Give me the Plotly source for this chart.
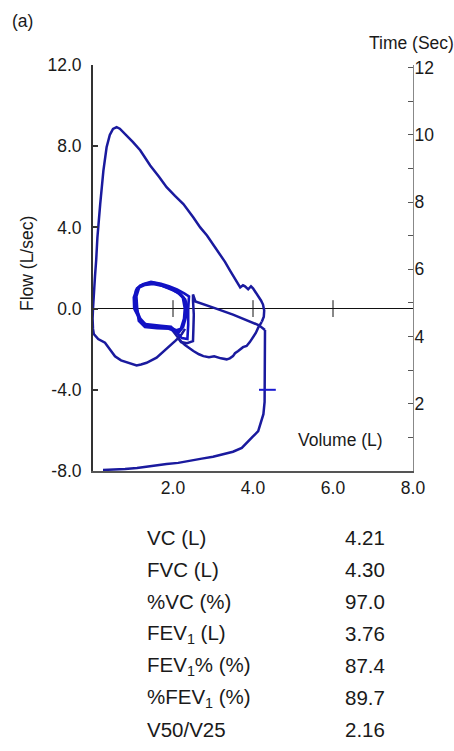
import plotly.graph_objects as go

# ---------------- data ----------------
# forced expiration limb
exp_vol = [0, 0.02, 0.05, 0.08, 0.11, 0.18, 0.26, 0.34, 0.42, 0.5, 0.59, 0.67, 0.84, 1.0, 1.18,
           1.43, 1.65, 1.84, 2.05, 2.26, 2.51, 2.68, 2.85, 3.0, 3.18, 3.3, 3.43, 3.59, 3.68, 3.75,
           3.8, 3.88, 3.95, 4.0, 4.07, 4.13, 4.2, 4.25, 4.28, 4.27, 4.22]
exp_flow = [0, 0.8, 1.6, 2.4, 3.5, 5.15, 6.8, 7.95, 8.55, 8.85, 8.94, 8.86, 8.53, 8.2, 7.8,
            7.05, 6.5, 5.98, 5.55, 5.15, 4.49, 4.0, 3.6, 3.18, 2.69, 2.3, 1.86, 1.37, 1.04, 1.15,
            1.1, 0.95, 1.1, 1.0, 0.8, 0.63, 0.4, 0.2, -0.1, -0.4, -0.65]

# return path (lower right)
ret_vol = [4.22, 4.17, 4.13, 4.07, 4.0, 3.92, 3.84, 3.75, 3.63, 3.55, 3.5, 3.42, 3.34, 3.2, 3.03,
           2.9, 2.76, 2.65, 2.51, 2.4, 2.3, 2.2, 2.13, 2.05, 1.98]
ret_flow = [-0.65, -0.8, -0.94, -1.2, -1.43, -1.65, -1.84, -1.9, -2.09, -2.2, -2.34, -2.45, -2.5,
            -2.45, -2.35, -2.4, -2.34, -2.25, -2.09, -1.95, -1.8, -1.62, -1.45, -1.25, -1.05]

# left lower path
left_vol = [0, -0.01, 0.0, 0.02, 0.13, 0.3, 0.42, 0.55, 0.7, 0.88, 1.09, 1.2, 1.34, 1.59, 1.72,
            1.84, 1.95, 2.05, 2.13, 2.22, 2.3]
left_flow = [0, -0.5, -1.0, -1.25, -1.5, -1.68, -2.0, -2.35, -2.55, -2.67, -2.8, -2.75, -2.67,
             -2.42, -2.2, -2.0, -1.8, -1.6, -1.45, -1.25, -1.0]

# vertical + diagonal path
diag_vol = [2.13, 2.2, 2.35, 2.5, 2.51, 2.52, 2.5, 2.5, 2.56, 2.8, 3.08, 3.5, 4.0, 4.15, 4.3]
diag_flow = [-1.45, -1.65, -1.7, -1.6, -1.0, -0.3, 0.4, 0.7, 0.35, 0.2, 0.0, -0.3, -0.69, -0.82, -1.05]

# forced inspiration limb
insp_vol = [4.3, 4.3, 4.3, 4.3, 4.29, 4.26, 4.2, 4.13, 4.0, 3.85, 3.72, 3.5, 3.3, 3.0, 2.72, 2.4,
            2.13, 1.84, 1.47, 1.1, 0.8, 0.5, 0.25]
insp_flow = [-1.05, -2.0, -3.0, -4.0, -4.6, -5.2, -5.6, -6.04, -6.3, -6.6, -6.86, -7.05, -7.16,
             -7.3, -7.39, -7.5, -7.6, -7.66, -7.77, -7.85, -7.9, -7.93, -7.95]

# tidal loops
tid1_vol = [1.07, 1.05, 1.08, 1.18, 1.32, 1.47, 1.65, 1.84, 2.02, 2.18, 2.3, 2.36, 2.32, 2.25, 2.15,
            2.0, 1.84, 1.6, 1.34, 1.18, 1.07]
tid1_flow = [0.0, 0.5, 0.9, 1.12, 1.22, 1.28, 1.2, 1.06, 0.9, 0.72, 0.45, 0.05, -0.4, -0.9, -1.15,
             -1.0, -0.92, -0.92, -0.84, -0.5, 0.0]
tid2_vol = [1.03, 1.02, 1.1, 1.25, 1.45, 1.7, 1.9, 2.1, 2.28, 2.4, 2.38, 2.38, 2.36, 2.22, 2.1,
            1.95, 1.7, 1.4, 1.25, 1.12, 1.03]
tid2_flow = [0.0, 0.55, 1.0, 1.2, 1.32, 1.22, 1.1, 0.95, 0.75, 0.6, 0.0, -0.8, -1.5, -1.45, -1.2,
             -0.9, -0.85, -0.8, -0.75, -0.35, 0.0]
tid3_vol = [1.1, 1.08, 1.15, 1.3, 1.5, 1.75, 1.95, 2.12, 2.25, 2.3, 2.28, 2.2, 2.05, 1.9, 1.6,
            1.3, 1.15, 1.1]
tid3_flow = [0.0, 0.6, 1.05, 1.18, 1.22, 1.12, 0.98, 0.8, 0.55, 0.0, -0.5, -1.0, -1.1, -0.98,
             -0.95, -0.9, -0.6, 0.0]

# reference mark on the inspiration limb
mark_vol = [4.36]
mark_flow = [-4.0]

# ticks across the zero-flow line
zero_tick_vol = [2, 4, 6]

flow_ticks = [-8, -4, 0, 4, 8, 12]
flow_labels = ["-8.0", "-4.0", "0.0", "4.0", "8.0", "12.0"]
vol_ticks = [2, 4, 6, 8]
vol_labels = ["2.0", "4.0", "6.0", "8.0"]
time_ticks = [2, 4, 6, 8, 10, 12]
time_labels = ["2", "4", "6", "8", "10", "12"]
time_minor = [1, 3, 5, 7, 9, 11]

table_labels = ["VC (L)", "FVC (L)", "%VC (%)", "FEV<sub>1</sub> (L)", "FEV<sub>1</sub>% (%)",
                "%FEV<sub>1</sub> (%)", "V50/V25"]
table_values = ["4.21", "4.30", "97.0", "3.76", "87.4", "89.7", "2.16"]

# ---------------- figure ----------------
FONT = "Arial, Liberation Sans, sans-serif"
TXT = "#1a1a1a"
MAIN = "#1a1a9e"
LOOP = "#1212c4"

fig = go.Figure()

def add_line(x, y, color=MAIN, width=2.5):
    fig.add_trace(go.Scatter(x=x, y=y, mode="lines", line=dict(color=color, width=width),
                             hoverinfo="skip", showlegend=False, cliponaxis=False))

add_line(left_vol, left_flow)
add_line(ret_vol, ret_flow)
add_line(diag_vol, diag_flow)
add_line(insp_vol, insp_flow)
add_line(tid1_vol, tid1_flow, LOOP, 3.0)
add_line(tid2_vol, tid2_flow, LOOP, 2.6)
add_line(tid3_vol, tid3_flow, LOOP, 3.0)
add_line(exp_vol, exp_flow)

fig.add_trace(go.Scatter(x=mark_vol, y=mark_flow, mode="markers",
                         marker=dict(symbol="line-ew", size=12, line=dict(color="#1a1ad0", width=2)),
                         hoverinfo="skip", showlegend=False))
fig.add_trace(go.Scatter(x=zero_tick_vol, y=[0] * len(zero_tick_vol), mode="markers",
                         marker=dict(symbol="line-ns", size=12, line=dict(color="#111", width=1)),
                         hoverinfo="skip", showlegend=False))
# carrier for the time axis
fig.add_trace(go.Scatter(x=[0], y=[0], yaxis="y2", mode="markers", marker=dict(opacity=0),
                         hoverinfo="skip", showlegend=False))

fig.update_layout(
    template="none",
    width=454, height=751,
    margin=dict(l=93, r=41, t=65, b=280, autoexpand=False),
    paper_bgcolor="white", plot_bgcolor="white",
    font=dict(family=FONT, size=17.5, color=TXT),
    showlegend=False,
    xaxis=dict(range=[0, 8], automargin=False, showgrid=False, zeroline=False, showline=True,
               linecolor="#555", linewidth=1.5, tickmode="array", tickvals=vol_ticks,
               ticktext=vol_labels, ticks="", tickfont=dict(size=17.5, color=TXT),
               fixedrange=True),
    yaxis=dict(range=[-8, 12], automargin=False, showgrid=False, zeroline=True,
               zerolinecolor="#111", zerolinewidth=1, showline=True, linecolor="#333",
               linewidth=2, tickmode="array", tickvals=flow_ticks, ticktext=flow_labels,
               ticks="inside", ticklen=5, tickcolor="#333", tickwidth=1.5,
               tickfont=dict(size=17.5, color=TXT), ticklabelstandoff=6, fixedrange=True),
    yaxis2=dict(range=[0, 12.08], automargin=False, overlaying="y", side="right",
                showgrid=False, zeroline=False, showline=True, linecolor="#888", linewidth=1,
                tickmode="array", tickvals=time_ticks, ticktext=time_labels,
                ticks="inside", ticklen=5, tickcolor="#555", tickwidth=1,
                minor=dict(tickmode="array", tickvals=time_minor, ticks="inside", ticklen=5,
                           tickcolor="#555", tickwidth=1, showgrid=False),
                tickfont=dict(size=17.5, color=TXT), ticklabelstandoff=-3, fixedrange=True),
)

ann = [
    dict(text="(a)", x=(10 - 93) / 320, y=(471 - 21) / 406, xanchor="left", yanchor="middle"),
    dict(text="Time (Sec)", x=(367 - 93) / 320, y=(471 - 43) / 406, xanchor="left",
         yanchor="middle"),
    dict(text="Flow (L/sec)", x=(27 - 93) / 320, y=(471 - 264) / 406, xanchor="center",
         yanchor="middle", textangle=-90),
    dict(text="Volume (L)", x=(340.7 - 93) / 320, y=(471 - 440) / 406, xanchor="center",
         yanchor="middle"),
]
for a in ann:
    a["font"] = dict(size=17.5)
for i, (lab, val) in enumerate(zip(table_labels, table_values)):
    py = 537.5 + 32 * i
    ann.append(dict(text=lab, x=(145 - 93) / 320, y=(471 - py) / 406, xanchor="left",
                    yanchor="middle", font=dict(size=20.5)))
    ann.append(dict(text=val, x=(343 - 93) / 320, y=(471 - py) / 406, xanchor="left",
                    yanchor="middle", font=dict(size=20.5)))
for a in ann:
    a.update(xref="paper", yref="paper", showarrow=False)
    a["font"].update(family=FONT, color=TXT)
fig.update_layout(annotations=ann)

fig.write_html(
    "out.html",
    config={"displayModeBar": False},
    post_script="document.body.style.margin='0px';"
                "document.documentElement.style.overflow='hidden';",
)
